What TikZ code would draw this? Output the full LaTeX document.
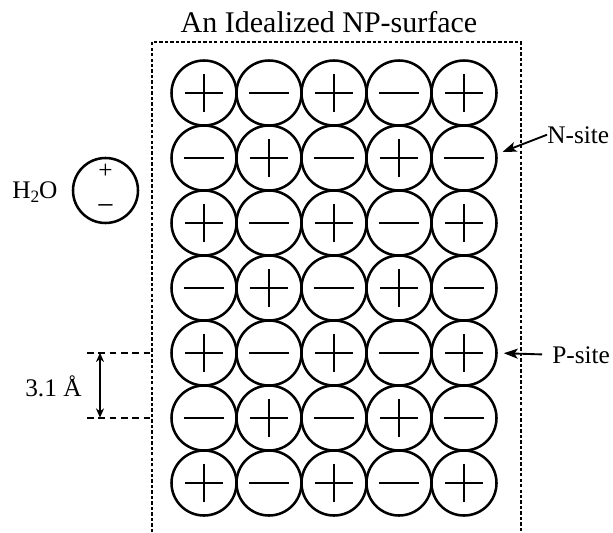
\documentclass[tikz,border=0pt]{standalone}
\usepackage{fontspec}
\setmainfont{Liberation Serif}
\usetikzlibrary{arrows.meta}
\begin{document}
\begin{tikzpicture}[x=0.75pt,y=-0.75pt,
    site/.style={draw,circle,line width=1.9pt,minimum size=48.75pt,inner sep=0pt},
    arm/.style={line width=1.5pt},
    lbl/.style={inner sep=0pt,font=\fontsize{19}{22}\selectfont},
    tip/.style={-{Stealth[length=10.5pt,width=7.5pt,inset=2.5pt]},line width=1.4pt},
    dim/.style={line width=1.3pt,dash pattern=on 5pt off 3.5pt}]
  \useasboundingbox (0,0) rectangle (613,532);
  \node[lbl,font=\fontsize{22.5}{26}\selectfont,anchor=base] (title) at (329,32) {An Idealized NP-surface};
  \coordinate (boxl) at (152,42);
  \coordinate (boxr) at (521,42);
  \draw[line width=1.5pt,dash pattern=on 2.5pt off 1.6pt] (boxl |- 0,532) -- (boxl) -- (boxr) -- (boxr |- 0,532);
  % sites: plus where row+column is even
  \foreach \r in {1,...,7}
    \foreach \c in {1,...,5}{
      \node[site] (c-\r-\c) at (139+65*\c,28+65*\r) {};
      \pgfmathtruncatemacro\s{\r+\c}
      \ifodd\s
        \draw[arm] ([xshift=-15pt]c-\r-\c.center) -- ([xshift=15pt]c-\r-\c.center);
      \else
        \draw[arm] ([xshift=-14.25pt]c-\r-\c.center) -- ([xshift=14.25pt]c-\r-\c.center);
        \draw[arm] ([yshift=-14.25pt]c-\r-\c.center) -- ([yshift=14.25pt]c-\r-\c.center);
      \fi
    }
  \node[lbl,anchor=base west] (h2o) at (12,198) {H\raisebox{-0.35ex}{\fontsize{13}{13}\selectfont 2}O};
  \node[site] (water) at (105.5,190.5) {};
  \node[inner sep=0pt,font=\fontsize{19}{19}\selectfont] (wplus) at ([yshift=14.1pt]water.center) {+};
  \node[inner sep=0pt,font=\fontsize{23}{23}\selectfont] (wminus) at ([yshift=-14.5pt]water.center) {−};
  \node[lbl,anchor=base west] (nsite) at (547,143) {N-site};
  \node[lbl,anchor=base west] (psite) at (552,363) {P-site};
  \draw[tip,shorten >=4pt] (nsite.west) -- (c-2-5.7);
  \draw[tip,shorten <=7.5pt,shorten >=4.5pt] (psite.west) -- (c-5-5.east);
  \coordinate (d1) at (87,352.7);
  \coordinate (d2) at (87,417.7);
  \draw[dim] (d1) -- (d1 -| boxl);
  \draw[dim] (d2) -- (d2 -| boxl);
  \draw[{Stealth[length=7pt,width=6pt]}-{Stealth[length=7pt,width=6pt]},line width=1.4pt] ([xshift=9.75pt]d1) -- ([xshift=9.75pt]d2);
  \node[lbl,anchor=base west] (dist) at (25,396) {3.1 Å};
\end{tikzpicture}
\end{document}
